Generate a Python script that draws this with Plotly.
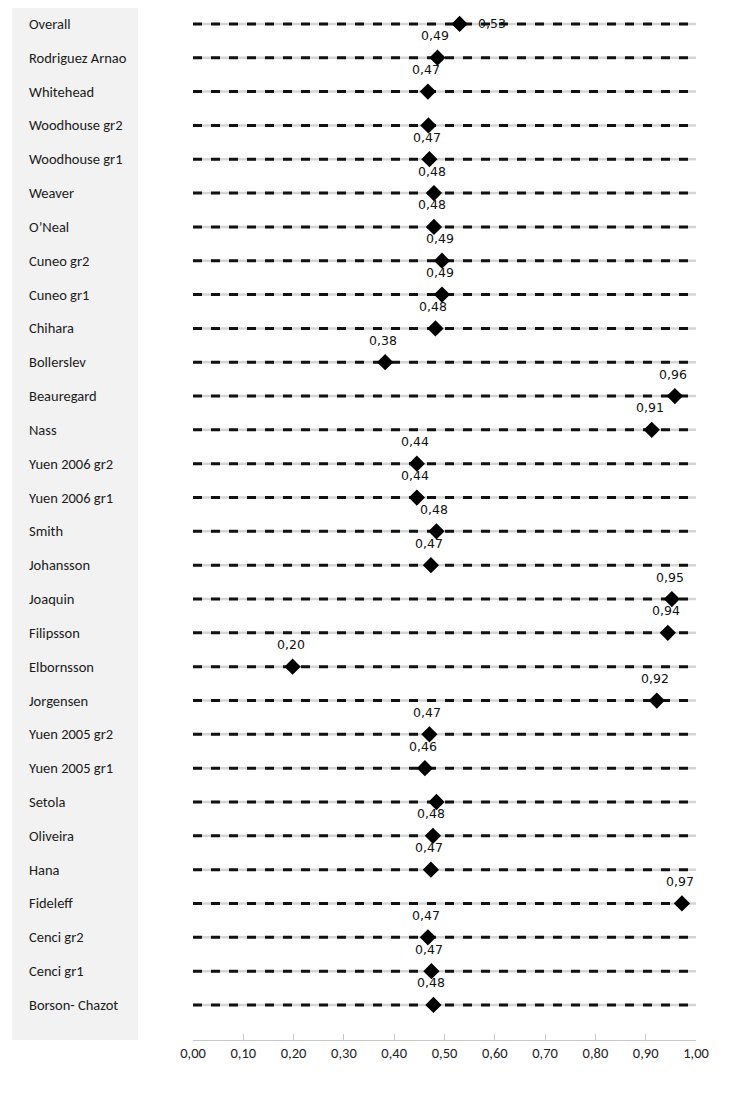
import plotly.graph_objects as go

studies = ["Overall", "Rodriguez Arnao", "Whitehead", "Woodhouse gr2", "Woodhouse gr1",
           "Weaver", "O\u2019Neal", "Cuneo gr2", "Cuneo gr1", "Chihara", "Bollerslev",
           "Beauregard", "Nass", "Yuen 2006 gr2", "Yuen 2006 gr1", "Smith", "Johansson",
           "Joaquin", "Filipsson", "Elbornsson", "Jorgensen", "Yuen 2005 gr2",
           "Yuen 2005 gr1", "Setola", "Oliveira", "Hana", "Fideleff", "Cenci gr2",
           "Cenci gr1", "Borson- Chazot"]
values = [0.530, 0.486, 0.467, 0.468, 0.470, 0.479, 0.479, 0.495, 0.495, 0.482, 0.382,
          0.958, 0.912, 0.445, 0.445, 0.484, 0.473, 0.952, 0.944, 0.198, 0.922, 0.470,
          0.461, 0.484, 0.477, 0.473, 0.972, 0.467, 0.474, 0.478]
value_labels = ["0,53", "0,49", "0,47", "", "0,47", "0,48", "0,48", "0,49", "0,49", "0,48",
                "0,38", "0,96", "0,91", "0,44", "0,44", "0,48", "0,47", "0,95", "0,94",
                "0,20", "0,92", "0,47", "0,46", "", "0,48", "0,47", "0,97", "0,47",
                "0,47", "0,48"]
x_ticks = [0.0, 0.1, 0.2, 0.3, 0.4, 0.5, 0.6, 0.7, 0.8, 0.9, 1.0]
x_range = [0.0, 1.0]

n = len(studies)
ypos = [n - 1 - i for i in range(n)]  # Overall on top

fig = go.Figure()

# left label panel
fig.add_shape(type="rect", xref="paper", yref="paper",
              x0=-0.36, x1=-0.1093, y0=0, y1=1.02,
              fillcolor="#f2f2f2", line=dict(width=0), layer="below")

# row lines: light grey base + black dashes
for i in range(n):
    fig.add_trace(go.Scatter(x=x_range, y=[ypos[i], ypos[i]], mode="lines",
                             line=dict(color="#d4d4d4", width=2.5),
                             hoverinfo="skip", showlegend=False, cliponaxis=False))
    fig.add_trace(go.Scatter(x=x_range, y=[ypos[i], ypos[i]], mode="lines",
                             line=dict(color="#111111", width=3, dash="9px,9px"),
                             hoverinfo="skip", showlegend=False, cliponaxis=False))

fig.add_trace(go.Scatter(x=values, y=ypos, mode="markers",
                         marker=dict(symbol="diamond", size=12.5, color="#000000",
                                     line=dict(width=0)),
                         showlegend=False, cliponaxis=False))

label_font = dict(family="DejaVu Sans", size=12.5, color="#111111")
for i in range(n):
    if not value_labels[i]:
        continue
    if i == 0:
        fig.add_annotation(x=values[i], y=ypos[i], text=value_labels[i], showarrow=False,
                           xanchor="left", xshift=16, font=label_font)
    else:
        fig.add_annotation(x=values[i], y=ypos[i], text=value_labels[i], showarrow=False,
                           xanchor="center", yshift=22, xshift=-2, font=label_font)

name_font = dict(family="Carlito, Calibri, Lato, sans-serif", size=14.5, color="#1a1a1a")
for i in range(n):
    fig.add_annotation(x=-0.33, xref="paper", y=ypos[i], yref="y", text=studies[i],
                       showarrow=False, xanchor="left", font=name_font)

fig.update_layout(
    width=739, height=1087,
    margin=dict(l=185, r=51, t=0, b=55),
    paper_bgcolor="white", plot_bgcolor="white",
    separators=",.",
    xaxis=dict(range=x_range, tickvals=x_ticks, tickformat=".2f",
               showgrid=False, zeroline=False, showline=True, linecolor="#c8c8c8",
               linewidth=1, ticks="inside", ticklen=6, tickcolor="#c8c8c8",
               tickfont=dict(family="Carlito, Calibri, Lato, sans-serif", size=14.5,
                             color="#222222")),
    yaxis=dict(range=[-1.035, n - 1 + 0.47], showgrid=False, zeroline=False,
               showticklabels=False, showline=False),
)

fig.write_html("out.html")
